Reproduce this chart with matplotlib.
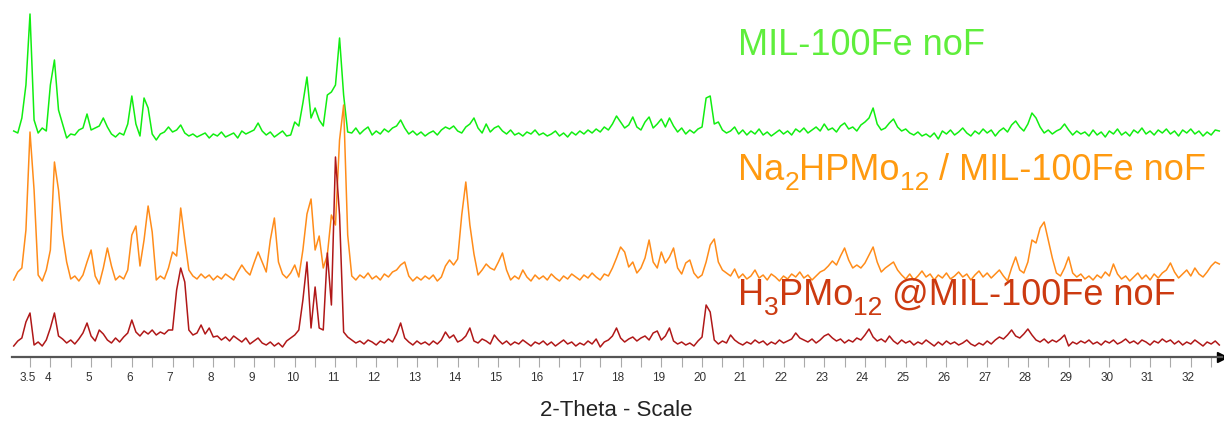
import numpy as np
import matplotlib
matplotlib.use("Agg")
import matplotlib.pyplot as plt
import matplotlib.transforms as mtransforms

plt.rcParams['font.family'] = ['Liberation Sans', 'DejaVu Sans']

# 2-theta grid, 0.1 deg steps from 3.1 to 32.7
two_theta = np.round(np.arange(3.1, 32.75, 0.1), 1)

# intensities above each trace baseline (a.u.), one row per degree
mil100 = [
    5, 3, 18, 51, 122, 16, 3, 8, 5, 51,
    76, 26, 12, -2, 2, 1, 6, 8, 22, 6,
    8, 10, 18, 9, 2, -1, 3, 1, 12, 40,
    12, 0, 38, 28, 2, -4, 2, 4, 9, 4,
    6, 11, 3, 0, 2, -1, 1, 3, -2, 2,
    0, 4, -1, 1, 3, -2, 5, 2, 4, 6,
    13, 5, 1, 4, -1, 2, 5, 0, 1, 14,
    10, 33, 59, 18, 28, 16, 10, 41, 44, 51,
    98, 41, 4, 3, 8, 2, 6, 9, 1, 5,
    2, 7, 4, 8, 10, 16, 8, 2, 5, 1,
    4, 0, 3, 5, 1, 6, 9, 7, 10, 5,
    3, 9, 12, 18, 8, 3, 12, 4, 8, 10,
    5, 2, 6, 1, 3, 0, 4, 2, 6, 1,
    3, 0, 2, 5, 0, 3, -1, 4, 1, 5,
    2, 6, 3, 7, 4, 9, 6, 12, 20, 14,
    8, 11, 19, 9, 6, 14, 19, 8, 12, 17,
    9, 18, 10, 4, 8, 2, 6, 3, 7, 9,
    38, 40, 12, 14, 6, 3, 5, 9, 2, 6,
    1, 5, 2, 7, 1, 4, 0, 3, 6, 2,
    5, 1, 7, 4, 8, 3, 6, 9, 5, 12,
    6, 8, 4, 10, 13, 7, 9, 5, 11, 14,
    18, 28, 12, 6, 8, 13, 17, 9, 5, 7,
    3, 1, 4, 0, 2, -1, 3, -3, 5, 2,
    6, 1, 4, 8, 3, 0, 5, 2, 7, 3,
    6, 0, 5, 8, 4, 11, 15, 9, 5, 12,
    23, 18, 9, 3, 6, 2, 5, 7, 12, 6,
    1, 5, 2, 4, 0, 6, 1, 4, -1, 5,
    2, 7, 1, 4, 0, 6, 3, 8, 2, 5,
    1, 6, 3, 7, 2, 5, 0, 6, 3, 7,
    2, 5, 0, 4, 1, 6, 5,
]

na2hpmo12_mil = [
    -2, 6, 10, 48, 146, 88, 3, -3, 8, 28,
    116, 88, 43, 16, -1, 2, -3, 3, 16, 28,
    2, -6, 10, 30, 12, -2, 2, -1, 8, 43,
    52, 12, 38, 72, 46, -2, 2, -1, 10, 26,
    22, 70, 38, 8, 2, -1, 4, 0, 3, -2,
    2, -1, 4, 1, -2, 6, 13, 7, 3, 15,
    26, 16, 6, 38, 60, 16, 4, 0, 5, 13,
    1, 28, 64, 79, 28, 42, 10, 23, 63, 53,
    138, 173, 43, 2, -2, 3, 0, 5, -1, 2,
    -2, 4, 1, 6, 8, 13, 16, 2, -3, 1,
    -2, 2, -1, 3, -3, 1, 12, 18, 13, 19,
    63, 96, 53, 24, 3, 8, 14, 10, 8, 16,
    25, 8, -2, 2, -1, 8, 1, -3, 3, -1,
    2, -2, 4, 0, -3, 2, -1, 4, 1, -2,
    3, 0, 5, 1, -2, 4, 2, 10, 20, 31,
    26, 11, 16, 5, 10, 20, 38, 16, 10, 26,
    15, 21, 30, 10, 4, 15, 18, 5, 0, 3,
    16, 33, 39, 16, 8, 5, 2, 9, 0, 4,
    -1, 2, 8, 0, 3, -2, 4, 1, -3, 2,
    -1, 4, 1, 6, 0, 3, -2, 2, 6, 8,
    12, 17, 13, 22, 30, 18, 10, 13, 10, 15,
    23, 31, 16, 6, 10, 13, 16, 8, 3, -1,
    4, -2, 2, 7, 1, 4, -2, 3, 0, 5,
    -1, 2, 6, 1, 4, -2, 3, 7, 1, 5,
    0, 4, 8, 2, -3, 10, 21, 8, 5, 16,
    38, 35, 50, 56, 38, 20, 5, 2, 10, 21,
    5, 1, 4, -1, 2, -2, 3, 0, 6, 2,
    14, 4, -1, 2, -3, 1, 5, -1, 3, -2,
    4, 0, 5, 8, 15, 6, 0, 4, 8, 2,
    10, 4, 1, 6, 12, 16, 14,
]

h3pmo12_at_mil = [
    -3, 2, 5, 21, 30, -2, 1, -3, 3, 15,
    30, 7, 4, 0, 3, -1, 4, 10, 20, 7,
    2, 13, 9, 3, 0, 5, 1, 6, 10, 23,
    11, 7, 12, 9, 13, 8, 11, 9, 13, 13,
    53, 75, 61, 13, 8, 10, 18, 9, 15, 6,
    7, 3, 6, 2, 7, 4, 1, 5, -1, 2,
    5, 0, -2, 1, -3, 0, -4, 2, 5, 8,
    13, 43, 81, 15, 56, 15, 13, 90, 38, 186,
    128, 11, 6, 3, 0, 2, -1, 3, 1, -2,
    2, 0, 4, 1, 9, 20, 5, 1, -2, 2,
    -1, 1, -2, 2, -1, 3, 11, 5, 8, 1,
    3, 7, 15, 2, 0, 4, 2, -1, 8, 3,
    -1, 2, -2, 1, -1, 3, 0, -3, 1, -1,
    2, -2, 1, -3, 0, 3, -1, 1, -3, 0,
    -2, 2, -1, 4, -4, 1, 3, 7, 15, 5,
    1, 4, 6, 2, 5, 7, 3, 10, 12, 3,
    7, 15, 2, -1, 1, -2, 0, -3, 2, 6,
    38, 31, 3, -1, 2, 0, 8, 3, 0, -2,
    1, -1, 3, 0, 2, -2, 1, -1, 3, 0,
    2, 4, 10, 5, 3, 1, 4, 0, 3, 7,
    9, 5, 2, 4, 0, 3, 1, 5, 3, 8,
    14, 6, 2, 4, 1, 7, 2, -1, 3, 0,
    2, -2, 1, -1, 3, 0, -3, 1, -2, 2,
    -1, 1, -2, 0, 3, -1, -3, 0, -2, 2,
    -1, 3, 6, 4, 8, 13, 7, 5, 9, 14,
    8, 3, 1, 4, 0, 3, 1, 4, 8, -3,
    1, -1, 2, 0, 3, -1, 1, -2, 2, 0,
    3, -1, 1, 4, 0, 2, -1, 3, 1, -2,
    2, 0, 4, 1, 3, -1, 2, -2, 1, -1,
    3, 0, -3, 1, -1, 2, -2,
]

# vertical stacking offsets of the three patterns
offsets = [221, 79, 14]
line_colors = ['#11ee11', '#ff8c1a', '#b01818']
# label pieces: (text, subscript?)
labels = [
    [('MIL-100Fe noF', False)],
    [('Na', False), ('2', True), ('HPMo', False), ('12', True), (' / MIL-100Fe noF', False)],
    [('H', False), ('3', True), ('PMo', False), ('12', True), (' @MIL-100Fe noF', False)],
]
label_colors = ['#5fee3c', '#ff9a10', '#cc3a10']
label_baselines = [55, 180, 305]   # pixel rows from top of the image

fig = plt.figure(figsize=(12.24, 4.25), dpi=100)
ax = fig.add_axes([12 / 1224, 1 - 357 / 425, 1210 / 1224, 357 / 425])

for series, off, col in zip([mil100, na2hpmo12_mil, h3pmo12_at_mil], offsets, line_colors):
    ax.plot(two_theta, np.array(series) + off, color=col, lw=1.1)

xmin, xmax = 3.058, 32.766
ax.set_xlim(xmin, xmax)
ax.set_ylim(0, 357)

for s in ['left', 'top', 'right']:
    ax.spines[s].set_visible(False)
ax.spines['bottom'].set_color('#555555')
ax.spines['bottom'].set_linewidth(1.6)
ax.set_yticks([])

major = [3.5] + list(range(4, 33))
ax.set_xticks(major)
ax.set_xticklabels(['3.5'] + [str(v) for v in range(4, 33)])
ax.set_xticks(np.arange(4.5, 33, 1.0), minor=True)
ax.tick_params(axis='x', which='both', direction='out', length=7.5, width=0.8,
               color='#aaaaaa', labelsize=8.5, labelcolor='#333333', pad=3)

shift = mtransforms.ScaledTranslation(-2.5 / 100, 0, fig.dpi_scale_trans)
for lab in ax.get_xticklabels():
    lab.set_transform(lab.get_transform() + shift)

# arrow head at the end of the axis
ax.plot([xmax], [0], marker='>', color='black', markersize=7, clip_on=False)

fig.text(616 / 1224, 1 - 411 / 425, '2-Theta - Scale', ha='center', va='center',
         fontsize=16, color='#222222')

# sample labels, drawn piece by piece so the subscripts sit low like the original
renderer = fig.canvas.get_renderer()
for pieces, col, yb in zip(labels, label_colors, label_baselines):
    x = 738
    for txt, sub in pieces:
        size = 19 if sub else 26
        y = yb + 10 if sub else yb
        t = fig.text(x / 1224, 1 - y / 425, txt, color=col, fontsize=size,
                     ha='left', va='baseline')
        x += t.get_window_extent(renderer).width

fig.savefig('out.png', dpi=100)
